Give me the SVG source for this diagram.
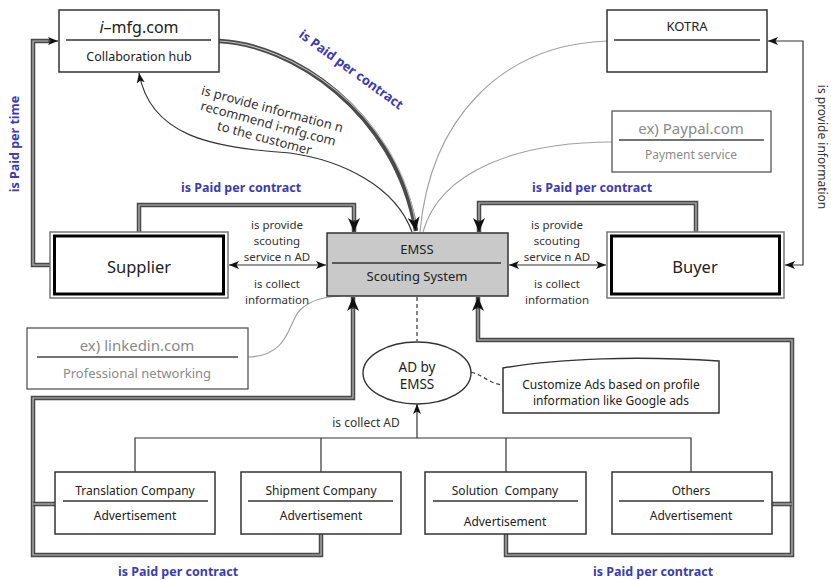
<svg xmlns="http://www.w3.org/2000/svg" width="831" height="580" viewBox="0 0 831 580">
<defs>
<style>
text{font-family:"Noto Sans","Liberation Sans",sans-serif;fill:#222}
.box{fill:#fff;stroke:#333;stroke-width:1.5}
.gbox{fill:#fff;stroke:#555;stroke-width:1.3}
.div{stroke:#333;stroke-width:1.3}
.gdiv{stroke:#444;stroke-width:1.3}
.lbl{font-size:11.5px;fill:#333;text-anchor:middle}
.blue{font-size:12.5px;font-weight:bold;fill:#3b3bb3;text-anchor:middle}
.dbl{fill:none;stroke:#4a4a4a;stroke-width:4.5}
.dbi{fill:none;stroke:#bbb;stroke-width:1.2}
.thin{fill:none;stroke:#333;stroke-width:1.2}
.gray{fill:none;stroke:#a0a0a0;stroke-width:1.1}
.dash{fill:none;stroke:#444;stroke-width:1.3;stroke-dasharray:4 3}
.gtxt{fill:#8a8a8a}
</style>
<marker id="a" viewBox="0 0 10 8" refX="10" refY="4" markerWidth="10" markerHeight="8" markerUnits="userSpaceOnUse" orient="auto-start-reverse"><path d="M0,0 L10,4 L0,8 L2.5,4 z" fill="#111"/></marker>
<marker id="big" viewBox="0 0 14 12" refX="14" refY="6" markerWidth="14" markerHeight="12" markerUnits="userSpaceOnUse" orient="auto"><path d="M0,0 L14,6 L0,12 L4,6 z" fill="#111"/></marker>
</defs>
<rect width="831" height="580" fill="#fff"/>

<g id="connectors">
<!-- Supplier to i-mfg -->
<path class="dbl" d="M50,265 L33,265 L33,41 L50,41"/>
<path class="dbi" d="M50,265 L33,265 L33,41 L50,41"/>
<path class="thin" d="M48,41 L58,41" marker-end="url(#a)"/>
<!-- i-mfg to EMSS -->
<path class="dbl" d="M219,41 C290,44 395,110 416,231" marker-end="url(#big)"/>
<path class="dbi" d="M219,41 C290,44 395,110 415,220"/>
<!-- EMSS to i-mfg thin -->
<path class="thin" d="M412,232 C395,185 340,160 290,153 C210,148 150,135 139,73" marker-end="url(#a)"/>
<!-- gray curves -->
<path class="gray" d="M607,41 C500,45 430,120 420,232"/>
<path class="gray" d="M612,142 C520,142 440,170 423,232"/>
<path class="gray" d="M248,357 C290,356 288,322 300,310 C312,299 325,297 340,296"/>
<!-- Buyer to KOTRA -->
<path class="thin" d="M785,265 L803,265 L803,41 L768,41" marker-start="url(#a)" marker-end="url(#a)"/>
<!-- Supplier <-> EMSS, EMSS <-> Buyer -->
<path class="thin" d="M229,265 L326,265" marker-start="url(#a)" marker-end="url(#a)"/>
<path class="thin" d="M509,265 L606,265" marker-start="url(#a)" marker-end="url(#a)"/>
<!-- Supplier to EMSS top -->
<path class="dbl" d="M139,232 L139,205 L354,205 L354,232" marker-end="url(#big)"/>
<path class="dbi" d="M139,232 L139,205 L354,205 L354,220"/>
<!-- Buyer to EMSS top -->
<path class="dbl" d="M696,232 L696,203 L479,203 L479,232" marker-end="url(#big)"/>
<path class="dbi" d="M696,232 L696,203 L479,203 L479,220"/>
<!-- dashed -->
<path class="dash" d="M417,297 L417,341"/>
<path class="dash" d="M471,372 C485,376 490,384 503,385"/>
<!-- tree -->
<path class="thin" d="M135,472 L135,438 L691,438 L691,472 M321,438 L321,472 M506,438 L506,472"/>
<path class="thin" d="M417,438 L417,404" marker-end="url(#a)"/>
<!-- bottom left -->
<path class="dbl" d="M321,534 L321,555 L33,555 L33,398 L353,398 L353,297" marker-end="url(#big)"/>
<path class="dbi" d="M321,534 L321,555 L33,555 L33,398 L353,398 L353,309"/>
<path class="dbl" d="M55,504 L33,504"/>
<path class="dbi" d="M55,504 L33,504"/>
<!-- bottom right -->
<path class="dbl" d="M506,534 L506,555 L792,555 L792,340 L478,340 L478,297" marker-end="url(#big)"/>
<path class="dbi" d="M506,534 L506,555 L792,555 L792,340 L478,340 L478,309"/>
<path class="dbl" d="M772,504 L792,504"/>
<path class="dbi" d="M772,504 L792,504"/>
</g>

<g id="labels">
<text class="blue" transform="translate(351,70) rotate(36)" y="4" style="font-size:13px">is Paid per contract</text>
<g transform="translate(268,125) rotate(15)">
<text class="lbl" y="-12" style="font-size:13px">is provide information n</text>
<text class="lbl" y="3" style="font-size:13px">recommend i-mfg.com</text>
<text class="lbl" y="18" style="font-size:13px">to the customer</text>
</g>
<text class="blue" transform="translate(15,144) rotate(-90)" y="4">is Paid per time</text>
<text class="lbl" transform="translate(822,147) rotate(90)" y="4" style="font-size:12px">is provide information</text>
<text class="blue" x="241" y="192">is Paid per contract</text>
<text class="blue" x="592" y="192">is Paid per contract</text>
<text class="blue" x="178" y="576">is Paid per contract</text>
<text class="blue" x="653" y="576">is Paid per contract</text>
<text class="lbl" x="277" y="229">is provide</text>
<text class="lbl" x="277" y="245">scouting</text>
<text class="lbl" x="277" y="261">service n AD</text>
<text class="lbl" x="277" y="288">is collect</text>
<text class="lbl" x="277" y="304">information</text>
<text class="lbl" x="557" y="229">is provide</text>
<text class="lbl" x="557" y="245">scouting</text>
<text class="lbl" x="557" y="261">service n AD</text>
<text class="lbl" x="557" y="288">is collect</text>
<text class="lbl" x="557" y="304">information</text>
<text class="lbl" x="366" y="427" style="font-size:12px">is collect AD</text>
</g>

<g id="imfg">
<rect class="box" x="59" y="10" width="160" height="62"/>
<line class="div" x1="66" y1="40" x2="211" y2="40"/>
<text x="139" y="33" font-size="16" text-anchor="middle"><tspan font-style="italic">i</tspan>–mfg.com</text>
<text x="139" y="61" font-size="12.5" text-anchor="middle">Collaboration hub</text>
</g>

<g id="kotra">
<rect class="box" x="607" y="10" width="160" height="62"/>
<line class="div" x1="614" y1="40" x2="760" y2="40"/>
<text x="687" y="31" font-size="13" text-anchor="middle">KOTRA</text>
</g>

<g id="paypal">
<rect class="gbox" x="612" y="111" width="159" height="61"/>
<line class="gdiv" x1="619" y1="140" x2="764" y2="140"/>
<text class="gtxt" x="691" y="134" font-size="15" text-anchor="middle">ex) Paypal.com</text>
<text class="gtxt" x="691" y="159" font-size="12" text-anchor="middle">Payment service</text>
</g>

<g id="supplier">
<rect x="50" y="232" width="178" height="66" fill="#fff" stroke="#777" stroke-width="1.5"/>
<rect x="54.5" y="236" width="169" height="58" fill="#fff" stroke="#000" stroke-width="3"/>
<text x="139" y="273" font-size="16.5" text-anchor="middle">Supplier</text>
</g>

<g id="emss">
<rect x="327" y="233" width="181" height="63" fill="#c9c9c9" stroke="#333" stroke-width="1.5"/>
<line class="div" x1="332" y1="263" x2="501" y2="263"/>
<text x="417" y="254" font-size="13" text-anchor="middle">EMSS</text>
<text x="417" y="281" font-size="13" text-anchor="middle">Scouting System</text>
</g>

<g id="buyer">
<rect x="607" y="232" width="177" height="66" fill="#fff" stroke="#777" stroke-width="1.5"/>
<rect x="611.5" y="236" width="168" height="58" fill="#fff" stroke="#000" stroke-width="3"/>
<text x="695" y="273" font-size="16.5" text-anchor="middle">Buyer</text>
</g>

<g id="linkedin">
<rect class="gbox" x="27" y="328" width="221" height="61"/>
<line class="gdiv" x1="37" y1="357" x2="238" y2="357"/>
<text class="gtxt" x="137" y="351" font-size="15" text-anchor="middle">ex) linkedin.com</text>
<text class="gtxt" x="137" y="378" font-size="13" text-anchor="middle">Professional networking</text>
</g>

<g id="adbyemss">
<ellipse cx="417" cy="373" rx="54" ry="31" fill="#fff" stroke="#333" stroke-width="1.4"/>
<text x="417" y="372" font-size="13.5" text-anchor="middle">AD by</text>
<text x="417" y="389" font-size="13.5" text-anchor="middle">EMSS</text>
</g>

<g id="customize">
<path d="M503,368 C560,358 640,356 719,361 L719,413 L503,413 Z" fill="#fff" stroke="#333" stroke-width="1.5"/>
<text x="611" y="389" font-size="12" text-anchor="middle">Customize Ads based on profile</text>
<text x="611" y="405" font-size="12" text-anchor="middle">information like Google ads</text>
</g>

<g id="translation">
<rect class="box" x="55" y="472" width="160" height="62"/>
<line class="div" x1="63" y1="501" x2="208" y2="501"/>
<text x="135" y="495" font-size="12" text-anchor="middle">Translation Company</text>
<text x="135" y="520" font-size="12" text-anchor="middle">Advertisement</text>
</g>

<g id="shipment">
<rect class="box" x="241" y="472" width="160" height="62"/>
<line class="div" x1="248" y1="501" x2="393" y2="501"/>
<text x="321" y="495" font-size="12" text-anchor="middle">Shipment Company</text>
<text x="321" y="520" font-size="12" text-anchor="middle">Advertisement</text>
</g>

<g id="solution">
<rect class="box" x="425" y="472" width="161" height="62"/>
<line class="div" x1="433" y1="501" x2="578" y2="501"/>
<text x="505" y="495" font-size="12" text-anchor="middle" xml:space="preserve">Solution  Company</text>
<text x="505" y="526" font-size="12" text-anchor="middle">Advertisement</text>
</g>

<g id="others">
<rect class="box" x="612" y="472" width="160" height="62"/>
<line class="div" x1="619" y1="501" x2="764" y2="501"/>
<text x="691" y="495" font-size="12" text-anchor="middle">Others</text>
<text x="691" y="520" font-size="12" text-anchor="middle">Advertisement</text>
</g>
</svg>
